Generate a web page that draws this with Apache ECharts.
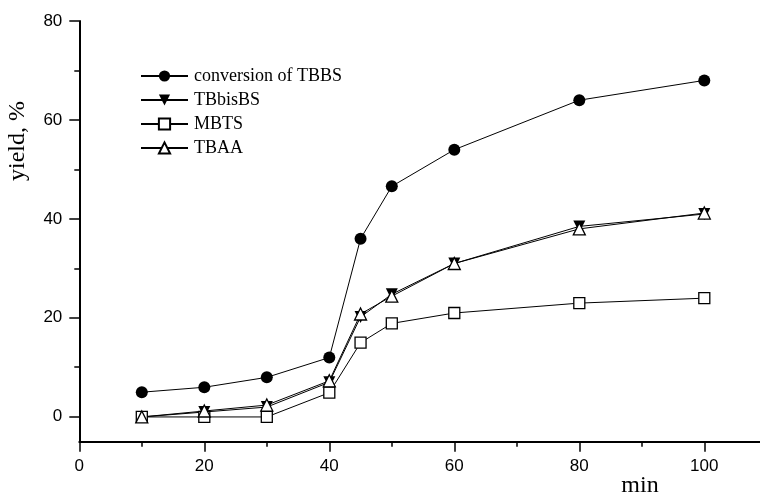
<!DOCTYPE html>
<html><head><meta charset="utf-8">
<script src="https://cdn.jsdelivr.net/npm/echarts@6/dist/echarts.min.js"></script>
<style>html,body{margin:0;padding:0;background:#fff}#c{width:760px;height:498px}</style>
</head><body><div id="c"></div>
<script>
var times = [10, 20, 30, 40, 45, 50, 60, 80, 100];
var convTBBS = [5, 6, 8, 12, 36, 46.6, 54, 64, 68];
var tbbisbs = [0, 1, 2, 7, 20.2, 24.8, 31, 38.5, 41];
var mbts = [0, 0, 0, 4.9, 15, 18.9, 21, 23, 24];
var tbaa = [0, 1.2, 2.4, 7.3, 20.8, 24.4, 31, 38, 41.2];
var xTickLabels = [0, 20, 40, 60, 80, 100];
var yTickLabels = [0, 20, 40, 60, 80];

function pairs(v){ return times.map(function(t,i){return [t, v[i]];}); }
var chart = echarts.init(document.getElementById('c'));
var serif = 'Liberation Serif, Times New Roman, serif';
var sans = 'Liberation Sans, Arial, sans-serif';
function mk(name, data, symbol, size, filled){
  return {
    name: name, type: 'line', xAxisIndex: 0, yAxisIndex: 0,
    data: pairs(data), symbol: symbol, symbolSize: size, showSymbol: true,
    lineStyle: {color: '#000', width: 1},
    itemStyle: {color: filled ? '#000' : '#fff', borderColor: '#000', borderWidth: filled ? 0 : 1.3},
    emphasis: {disabled: true}, animation: false, clip: false, z: 3
  };
}
var tickStyle = {color: '#000', width: 1.5};
chart.setOption({
  animation: false,
  grid: [
    {left: 79.3, right: -6.8, top: 21, bottom: 56.3, outerBoundsMode: 'none', containLabel: false},
    {left: 79.3, right: -6.8, top: 21, bottom: 81.3, outerBoundsMode: 'none', containLabel: false}
  ],
  legend: {
    orient: 'vertical', left: 135, top: 62, itemWidth: 47, itemHeight: 14, itemGap: 6,
    textStyle: {fontFamily: serif, fontSize: 18, lineHeight: 18, color: '#000', padding: [0, 0, 0, 1]},
    data: ['conversion of TBBS', 'TBbisBS', 'MBTS', 'TBAA']
  },
  xAxis: [
    {gridIndex: 0, type: 'value', min: 0, max: 110, interval: 20,
     axisLine: {onZero: false, lineStyle: {color: '#000', width: 2}},
     axisTick: {show: true, length: 10, lineStyle: tickStyle},
     minorTick: {show: true, splitNumber: 2, length: 5, lineStyle: tickStyle},
     splitLine: {show: false},
     axisLabel: {color: '#000', fontFamily: sans, fontSize: 17, margin: 16,
       formatter: function(v){ return xTickLabels.indexOf(v) >= 0 ? String(v) : ''; }}},
    {gridIndex: 1, type: 'value', min: 0, max: 110, show: false}
  ],
  yAxis: [
    {gridIndex: 0, type: 'value', min: -5, max: 80,
     axisLine: {show: true, onZero: false, lineStyle: {color: '#000', width: 2}},
     axisTick: {show: false}, axisLabel: {show: false}, splitLine: {show: false}},
    {gridIndex: 1, type: 'value', min: 0, max: 80, interval: 20,
     axisLine: {show: false, onZero: false},
     axisTick: {show: true, length: 10, lineStyle: tickStyle},
     minorTick: {show: true, splitNumber: 2, length: 5, lineStyle: tickStyle},
     splitLine: {show: false},
     axisLabel: {color: '#000', fontFamily: sans, fontSize: 17, margin: 17,
       formatter: function(v){ return yTickLabels.indexOf(v) >= 0 ? String(v) : ''; }}}
  ],
  graphic: [
    {type: 'text', x: 18, y: 141, rotation: Math.PI/2,
     style: {text: 'yield, %', font: '24px ' + serif, fill: '#000', textAlign: 'center', textVerticalAlign: 'middle'}},
    {type: 'text', x: 640, y: 486,
     style: {text: 'min', font: '24px ' + serif, fill: '#000', textAlign: 'center', textVerticalAlign: 'middle'}}
  ],
  series: [
    mk('conversion of TBBS', convTBBS, 'circle', 12, true),
    mk('TBbisBS', tbbisbs, 'path://M0,0 L10,0 L5,9 Z', 12, true),
    mk('MBTS', mbts, 'rect', 11, false),
    mk('TBAA', tbaa, 'triangle', 12, false)
  ]
});
</script></body></html>
